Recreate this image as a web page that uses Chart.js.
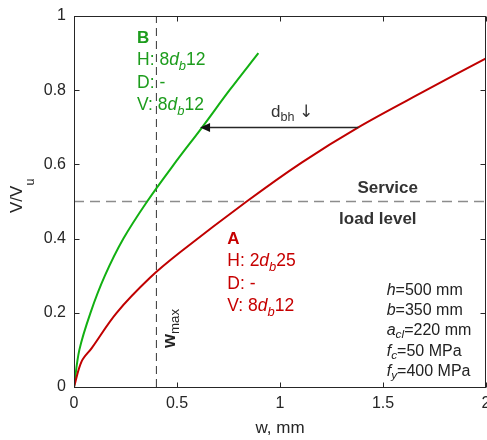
<!DOCTYPE html>
<html>
<head>
<meta charset="utf-8">
<script src="https://cdn.jsdelivr.net/npm/chart.js@4.4.1/dist/chart.umd.min.js"></script>
<style>
  html, body { margin: 0; padding: 0; background: #fff; }
  canvas { display: block; }
</style>
</head>
<body>
<canvas id="chart" width="487" height="440"></canvas>
<script>
// Crack width w (mm) against normalised shear V/Vu
const wA = [0, 0.037, 0.086, 0.207, 0.37, 0.515, 0.838, 1.105, 1.38, 1.71, 2.0];
const vA = [0, 0.069, 0.105, 0.20, 0.295, 0.363, 0.50, 0.605, 0.70, 0.80, 0.886];
const wB = [0, 0.026, 0.08, 0.15, 0.24, 0.355, 0.485, 0.622, 0.755, 0.895];
const vB = [0, 0.10, 0.20, 0.30, 0.40, 0.50, 0.60, 0.70, 0.80, 0.90];

// Reference levels
const wMax = 0.4;          // crack width limit, mm
const serviceLevel = 0.5;  // service load level, V/Vu

// Arrow from beam A to beam B at the same load level
const arrowLevel = 0.70;
const arrowTailW = 1.38;
const arrowTipW = 0.612;

// Axes
const xTickValues = [0, 0.5, 1, 1.5, 2];
const xTickLabels = ['0', '0.5', '1', '1.5', '2'];
const yTickValues = [0, 0.2, 0.4, 0.6, 0.8, 1];
const yTickLabels = ['0', '0.2', '0.4', '0.6', '0.8', '1'];

const FONT = '"Liberation Sans", Arial, Helvetica, sans-serif';
const RED = '#c00000';
const RED_TEXT = '#c60000';
const GREEN = '#12b012';
const GREEN_TEXT = '#1c9c1c';
const INK = '#262626';

const toPoints = (xs, ys) => xs.map((x, i) => ({ x, y: ys[i] }));

// Draws a run of text pieces (italic / subscript / bold) left to right.
function drawRich(ctx, x, y, runs, size, color) {
  ctx.fillStyle = color;
  ctx.textBaseline = 'alphabetic';
  ctx.textAlign = 'left';
  let cx = x;
  for (const r of runs) {
    const s = r.sub ? size * 0.74 : size;
    const dy = r.sub ? size * (r.drop || 0.28) : 0;
    const fam = r.fam || FONT;
    ctx.font = `${r.it ? 'italic ' : ''}${r.b ? 'bold ' : ''}${s}px ${fam}`;
    ctx.fillText(r.t, cx, y + dy);
    cx += ctx.measureText(r.t).width;
  }
}

const annotations = {
  id: 'annotations',
  afterDraw(chart) {
    const { ctx, chartArea: a, scales: { x, y } } = chart;
    const px = v => x.getPixelForValue(v);
    const py = v => y.getPixelForValue(v);
    ctx.save();

    // frame
    const L = Math.round(a.left) + 0.5, R = Math.round(a.right) - 0.5;
    const T = Math.round(a.top) + 0.5, B = Math.round(a.bottom) + 0.5;
    ctx.strokeStyle = INK;
    ctx.lineWidth = 1;
    ctx.setLineDash([]);
    ctx.strokeRect(L, T, R - L, B - T);

    // inward ticks on all four sides
    const tl = 5;
    ctx.beginPath();
    xTickValues.forEach(v => {
      const p = Math.round(px(v)) + 0.5;
      ctx.moveTo(p, B); ctx.lineTo(p, B - tl);
      ctx.moveTo(p, T); ctx.lineTo(p, T + tl);
    });
    yTickValues.forEach(v => {
      const p = Math.round(py(v)) + 0.5;
      ctx.moveTo(L, p); ctx.lineTo(L + tl, p);
      ctx.moveTo(R, p); ctx.lineTo(R - tl, p);
    });
    ctx.stroke();

    // arrow between the curves
    const ay = Math.round(py(arrowLevel)) + 0.5;
    const tipX = px(arrowTipW), tailX = px(arrowTailW);
    ctx.strokeStyle = INK;
    ctx.lineWidth = 1.3;
    ctx.beginPath();
    ctx.moveTo(tailX, ay); ctx.lineTo(tipX + 8, ay);
    ctx.stroke();
    ctx.fillStyle = '#111';
    ctx.beginPath();
    ctx.moveTo(tipX, ay);
    ctx.lineTo(tipX + 10, ay - 4.5);
    ctx.lineTo(tipX + 10, ay + 4.5);
    ctx.closePath();
    ctx.fill();

    // d_bh label
    drawRich(ctx, px(0.956), py(0.727), [
      { t: 'd' }, { t: 'bh', sub: true, drop: 0.2 }, { t: ' ' },
      { t: '\u2193', fam: '"DejaVu Sans", sans-serif' }
    ], 17, '#333');

    // beam B
    const bx = px(0.306), by = py(0.928), lh = 22.4;
    drawRich(ctx, bx, by, [{ t: 'B', b: true }], 17, GREEN_TEXT);
    drawRich(ctx, bx, by + lh, [{ t: 'H: 8' }, { t: 'd', it: true }, { t: 'b', it: true, sub: true }, { t: '12' }], 17.5, GREEN_TEXT);
    drawRich(ctx, bx, by + 2 * lh, [{ t: 'D: -' }], 17.5, GREEN_TEXT);
    drawRich(ctx, bx, by + 3 * lh, [{ t: 'V: 8' }, { t: 'd', it: true }, { t: 'b', it: true, sub: true }, { t: '12' }], 17.5, GREEN_TEXT);

    // beam A
    const ax = px(0.744), ayA = py(0.385), lhA = 22.2;
    drawRich(ctx, ax, ayA, [{ t: 'A', b: true }], 17, RED_TEXT);
    drawRich(ctx, ax, ayA + lhA, [{ t: 'H: 2' }, { t: 'd', it: true }, { t: 'b', it: true, sub: true }, { t: '25' }], 17.5, RED_TEXT);
    drawRich(ctx, ax, ayA + 2 * lhA, [{ t: 'D: -' }], 17.5, RED_TEXT);
    drawRich(ctx, ax, ayA + 3 * lhA, [{ t: 'V: 8' }, { t: 'd', it: true }, { t: 'b', it: true, sub: true }, { t: '12' }], 17.5, RED_TEXT);

    // service load level
    ctx.font = `bold 17px ${FONT}`;
    ctx.fillStyle = '#333';
    ctx.textAlign = 'center';
    ctx.textBaseline = 'alphabetic';
    ctx.fillText('Service', px(1.523), py(0.524));
    ctx.fillText('load level', px(1.475), py(0.439));

    // section properties
    const sx = px(1.518), sy = py(0.249), slh = 20.3;
    const props = [
      [{ t: 'h', it: true }, { t: '=500 mm' }],
      [{ t: 'b', it: true }, { t: '=350 mm' }],
      [{ t: 'a', it: true }, { t: 'cl', it: true, sub: true, drop: 0.2 }, { t: '=220 mm' }],
      [{ t: 'f', it: true }, { t: 'c', it: true, sub: true, drop: 0.2 }, { t: '=50 MPa' }],
      [{ t: 'f', it: true }, { t: 'y', it: true, sub: true, drop: 0.2 }, { t: '=400 MPa' }]
    ];
    props.forEach((row, i) => drawRich(ctx, sx, sy + i * slh, row, 16, '#222'));

    // w_max label (rotated)
    ctx.save();
    ctx.translate(px(0.49), py(0.105));
    ctx.rotate(-Math.PI / 2);
    drawRich(ctx, 0, 0, [{ t: 'w', b: true }, { t: 'max', sub: true, drop: 0.2 }], 18, '#222');
    ctx.restore();

    // axis titles
    ctx.font = `17px ${FONT}`;
    ctx.fillStyle = INK;
    ctx.textAlign = 'center';
    ctx.textBaseline = 'alphabetic';
    ctx.fillText('w, mm', (a.left + a.right) / 2, 433);

    ctx.save();
    ctx.translate(22, 213);
    ctx.rotate(-Math.PI / 2);
    drawRich(ctx, 0, 0, [{ t: 'V/V' }, { t: 'u', sub: true, drop: 0.7 }], 17, INK);
    ctx.restore();

    ctx.restore();
  }
};

Chart.defaults.font.family = FONT;
Chart.defaults.color = INK;

new Chart(document.getElementById('chart'), {
  type: 'line',
  data: {
    datasets: [
      {
        label: 'A',
        data: toPoints(wA, vA),
        borderColor: RED,
        borderWidth: 2,
        pointRadius: 0,
        tension: 0.35,
        order: 1
      },
      {
        label: 'B',
        data: toPoints(wB, vB),
        borderColor: GREEN,
        borderWidth: 2,
        pointRadius: 0,
        tension: 0.35,
        order: 1
      },
      {
        label: 'w max',
        data: [{ x: wMax, y: 0 }, { x: wMax, y: 1 }],
        borderColor: '#333',
        borderWidth: 1,
        borderDash: [8, 5],
        pointRadius: 0,
        order: 2
      },
      {
        label: 'service',
        data: [{ x: 0, y: serviceLevel }, { x: 2, y: serviceLevel }],
        borderColor: '#8c8c8c',
        borderWidth: 1.5,
        borderDash: [10, 6],
        pointRadius: 0,
        order: 2
      }
    ]
  },
  options: {
    responsive: false,
    animation: false,
    layout: { padding: { top: 16, right: 1, left: 0, bottom: 0 } },
    plugins: { legend: { display: false }, tooltip: { enabled: false } },
    scales: {
      x: {
        type: 'linear',
        min: 0, max: 2,
        afterBuildTicks: s => { s.ticks = xTickValues.map(value => ({ value })); },
        ticks: {
          callback: (v, i) => xTickLabels[i],
          font: { size: 16 },
          color: INK,
          padding: 7,
          maxRotation: 0
        },
        grid: { display: false, drawTicks: false },
        border: { display: false },
        afterFit: s => { s.height = 53; s.paddingLeft = 0; s.paddingRight = 0; }
      },
      y: {
        type: 'linear',
        min: 0, max: 1,
        afterBuildTicks: s => { s.ticks = yTickValues.map(value => ({ value })); },
        ticks: {
          callback: (v, i) => yTickLabels[i],
          font: { size: 16 },
          color: INK,
          padding: 8
        },
        grid: { display: false, drawTicks: false },
        border: { display: false },
        afterFit: s => { s.width = 74; s.paddingTop = 0; s.paddingBottom = 0; }
      }
    }
  },
  plugins: [annotations]
});
</script>
</body>
</html>
